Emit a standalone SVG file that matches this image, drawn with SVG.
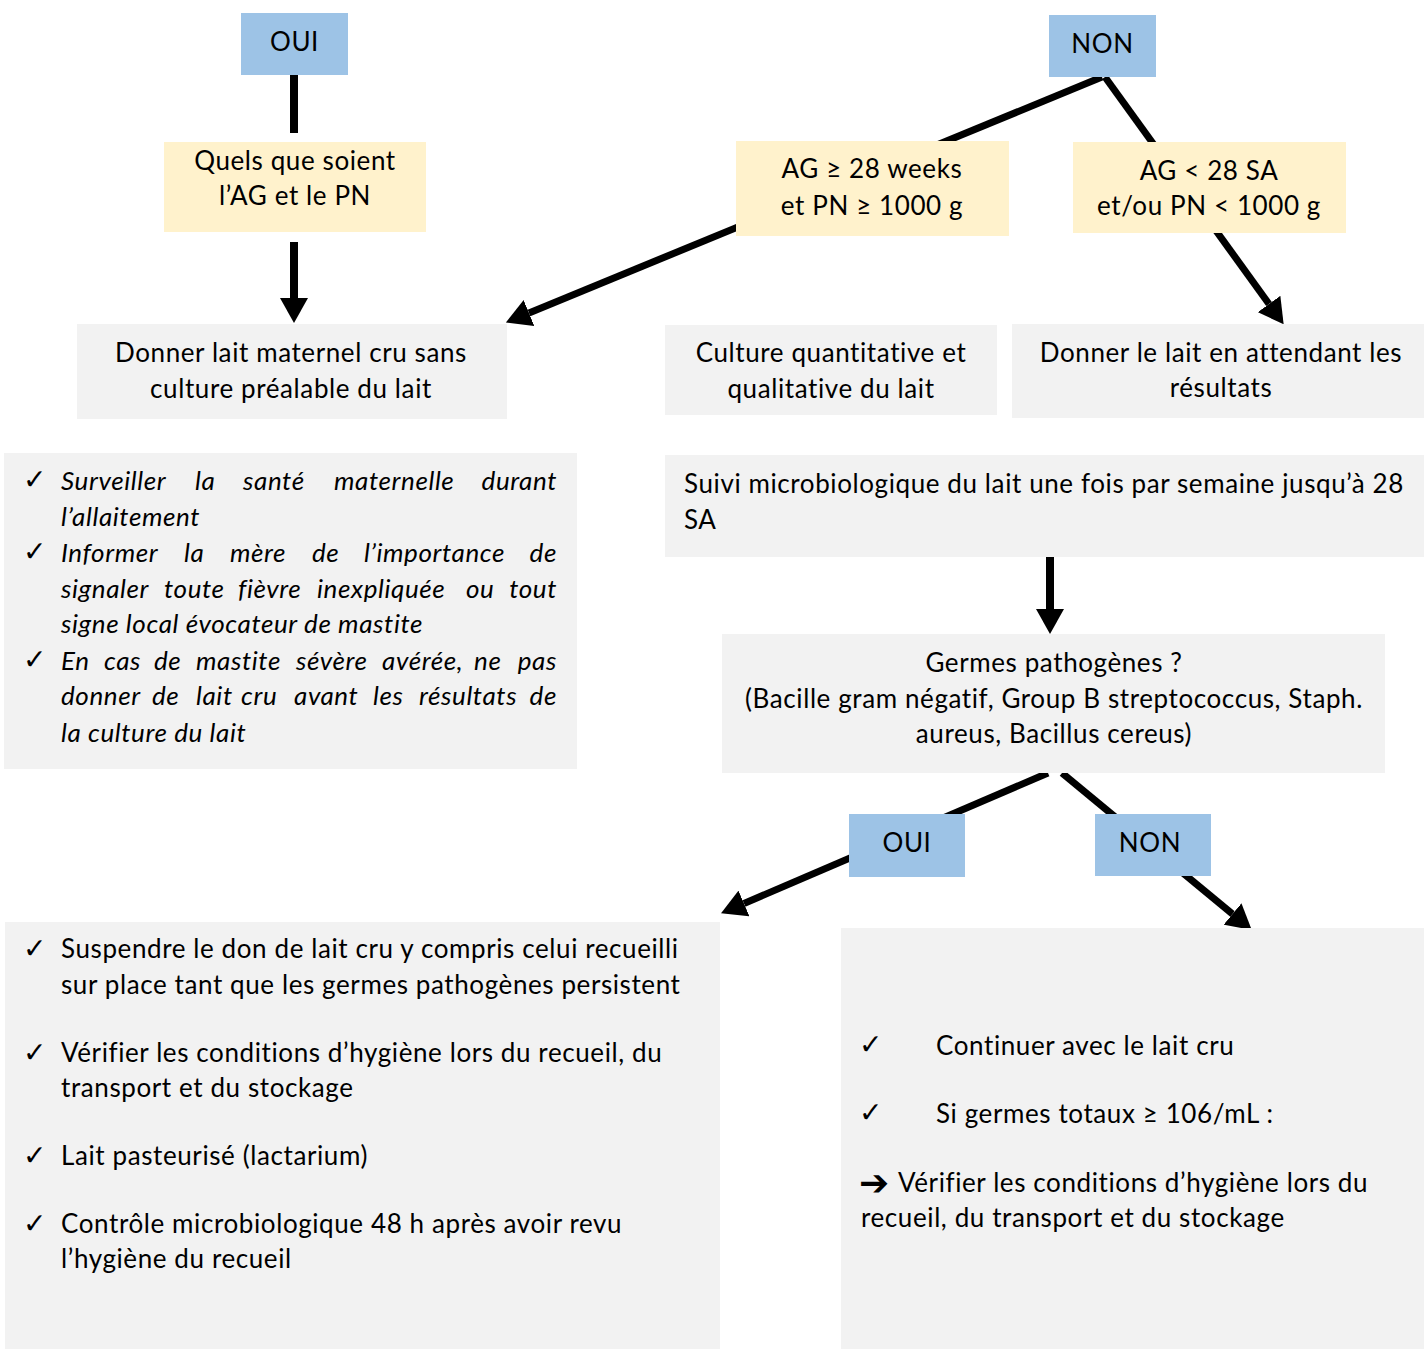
<svg xmlns="http://www.w3.org/2000/svg" width="1424" height="1349" viewBox="0 0 1424 1349">
<style>
.blue{fill:#9DC3E6}
.yellow{fill:#FFF2CC}
.grey{fill:#F2F2F2}
text{font-family:Lato,"Liberation Sans",sans-serif;font-size:26px;letter-spacing:0.6px;fill:#000}
.c{text-anchor:middle}
.i{font-style:italic}
.e{text-anchor:end}
.chk{font-family:"DejaVu Sans",sans-serif;font-size:28px;letter-spacing:0}
.sym{font-family:"DejaVu Sans",sans-serif;font-size:36px;font-weight:bold;letter-spacing:0}
.ln{stroke:#000;stroke-width:7;fill:none}
.lnv{stroke:#000;stroke-width:8;fill:none}
</style>
<defs>
<marker id="ah" markerUnits="userSpaceOnUse" markerWidth="26" markerHeight="28" refX="0" refY="14" orient="auto" viewBox="0 0 26 28">
<path d="M0,0 L25,14 L0,28 z" fill="#000"/>
</marker>
</defs>
<g id="connectors">
<line class="lnv" x1="294" y1="75" x2="294" y2="133"/>
<line class="lnv" x1="294" y1="242" x2="294" y2="298" marker-end="url(#ah)"/>
<line class="ln" x1="1102" y1="77" x2="529" y2="313" marker-end="url(#ah)"/>
<line class="ln" x1="1105" y1="77" x2="1269" y2="304" marker-end="url(#ah)"/>
<line class="lnv" x1="1050" y1="557" x2="1050" y2="609" marker-end="url(#ah)"/>
<line class="ln" x1="1048" y1="773" x2="744" y2="903.5" marker-end="url(#ah)"/>
<line class="ln" x1="1062" y1="773" x2="1232.5" y2="914" marker-end="url(#ah)"/>
</g>
<g id="oui-top">
<rect class="blue" x="241" y="13" width="107" height="62"/>
<text class="c" x="294.5" y="51">OUI</text>
</g>
<g id="non-top">
<rect class="blue" x="1049" y="15" width="107" height="62"/>
<text class="c" x="1102.5" y="53">NON</text>
</g>
<g id="quels">
<rect class="yellow" x="164" y="142" width="262" height="90"/>
<text class="c" x="295" y="170">Quels que soient</text>
<text class="c" x="295" y="205">l’AG et le PN</text>
</g>
<g id="ag-sup">
<rect class="yellow" x="736" y="141" width="273" height="95"/>
<text class="c" x="872" y="178">AG ≥ 28 weeks</text>
<text class="c" x="872" y="215">et PN ≥ 1000 g</text>
</g>
<g id="ag-inf">
<rect class="yellow" x="1073" y="142" width="273" height="91"/>
<text class="c" x="1209" y="180">AG &lt; 28 SA</text>
<text class="c" x="1209" y="215">et/ou PN &lt; 1000 g</text>
</g>
<g id="donner-cru">
<rect class="grey" x="77" y="324" width="430" height="95"/>
<text class="c" x="291" y="362">Donner lait maternel cru sans</text>
<text class="c" x="291" y="398">culture préalable du lait</text>
</g>
<g id="culture">
<rect class="grey" x="665" y="325" width="332" height="90"/>
<text class="c" x="831" y="362">Culture quantitative et</text>
<text class="c" x="831" y="398">qualitative du lait</text>
</g>
<g id="donner-attente">
<rect class="grey" x="1012" y="324" width="412" height="94"/>
<text class="c" x="1221" y="362">Donner le lait en attendant les</text>
<text class="c" x="1221" y="397">résultats</text>
</g>
<g id="surveiller">
<rect class="grey" x="4" y="453" width="573" height="316"/>
<text class="chk" x="23" y="489">✓</text>
<text class="chk" x="23" y="561">✓</text>
<text class="chk" x="23" y="669">✓</text>
<text class="i" y="490"><tspan x="61">Surveiller</tspan><tspan x="195">la</tspan><tspan x="243">santé</tspan><tspan x="334">maternelle</tspan><tspan class="e" x="557">durant</tspan></text>
<text class="i" x="61" y="526">l’allaitement</text>
<text class="i" y="562"><tspan x="61">Informer</tspan><tspan x="184">la</tspan><tspan x="230">mère</tspan><tspan x="312">de</tspan><tspan x="364">l’importance</tspan><tspan class="e" x="557">de</tspan></text>
<text class="i" y="598"><tspan x="61">signaler</tspan><tspan x="164">toute</tspan><tspan x="238">fièvre</tspan><tspan x="317">inexpliquée</tspan><tspan x="466">ou</tspan><tspan class="e" x="557">tout</tspan></text>
<text class="i" x="61" y="633">signe local évocateur de mastite</text>
<text class="i" y="670"><tspan x="61">En</tspan><tspan x="104">cas</tspan><tspan x="154">de</tspan><tspan x="196">mastite</tspan><tspan x="296">sévère</tspan><tspan x="382">avérée,</tspan><tspan x="474">ne</tspan><tspan class="e" x="557">pas</tspan></text>
<text class="i" y="705"><tspan x="61">donner</tspan><tspan x="152">de</tspan><tspan x="196">lait</tspan><tspan x="241">cru</tspan><tspan x="294">avant</tspan><tspan x="373">les</tspan><tspan x="419">résultats</tspan><tspan class="e" x="557">de</tspan></text>
<text class="i" x="61" y="742">la culture du lait</text>
</g>
<g id="suivi">
<rect class="grey" x="665" y="455" width="759" height="102"/>
<text x="684" y="493">Suivi microbiologique du lait une fois par semaine jusqu’à 28</text>
<text x="684" y="529">SA</text>
</g>
<g id="germes">
<rect class="grey" x="722" y="634" width="663" height="139"/>
<text class="c" x="1054" y="672">Germes pathogènes ?</text>
<text class="c" x="1054" y="708">(Bacille gram négatif, Group B streptococcus, Staph.</text>
<text class="c" x="1054" y="743">aureus, Bacillus cereus)</text>
</g>
<g id="oui-bas">
<rect class="blue" x="849" y="814" width="116" height="63"/>
<text class="c" x="907" y="852">OUI</text>
</g>
<g id="non-bas">
<rect class="blue" x="1095" y="814" width="116" height="62"/>
<text class="c" x="1150" y="852">NON</text>
</g>
<g id="suspendre">
<rect class="grey" x="5" y="922" width="715" height="427"/>
<text class="chk" x="23" y="958">✓</text>
<text class="chk" x="23" y="1062">✓</text>
<text class="chk" x="23" y="1165">✓</text>
<text class="chk" x="23" y="1233">✓</text>
<text x="61" y="958">Suspendre le don de lait cru y compris celui recueilli</text>
<text x="61" y="994">sur place tant que les germes pathogènes persistent</text>
<text x="61" y="1062">Vérifier les conditions d’hygiène lors du recueil, du</text>
<text x="61" y="1097">transport et du stockage</text>
<text x="61" y="1165">Lait pasteurisé (lactarium)</text>
<text x="61" y="1233">Contrôle microbiologique 48 h après avoir revu</text>
<text x="61" y="1268">l’hygiène du recueil</text>
</g>
<g id="continuer">
<rect class="grey" x="841" y="928" width="583" height="421"/>
<text class="chk" x="859" y="1054">✓</text>
<text class="chk" x="859" y="1122">✓</text>
<text x="936" y="1055">Continuer avec le lait cru</text>
<text x="936" y="1123">Si germes totaux ≥ 106/mL :</text>
<text class="sym" x="859" y="1195">➔</text>
<text x="898" y="1192">Vérifier les conditions d’hygiène lors du</text>
<text x="861" y="1227">recueil, du transport et du stockage</text>
</g>
</svg>
